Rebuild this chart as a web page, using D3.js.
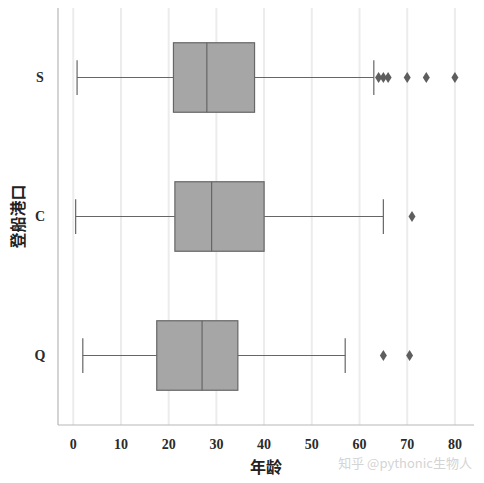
<!DOCTYPE html>
<html>
<head>
<meta charset="utf-8">
<script src="https://cdn.jsdelivr.net/npm/d3@7"></script>
<style>
  body { margin: 0; background: #fff; }
  svg { display: block; }
</style>
</head>
<body>
<div id="chart"></div>
<script>
// data
const ports = ['S', 'C', 'Q']
const whiskerLow = [0.8, 0.5, 2]
const q1 = [21, 21.3, 17.5]
const median = [28, 29, 27]
const q3 = [38, 40, 34.5]
const whiskerHigh = [63, 65, 57]
const outliers = [
  [64, 65, 66, 70, 74, 80],
  [71],
  [65, 70.5]
]
const xTicks = [0, 10, 20, 30, 40, 50, 60, 70, 80]

const boxes = ports.map((p, i) => ({
  port: p,
  lo: whiskerLow[i],
  q1: q1[i],
  med: median[i],
  q3: q3[i],
  hi: whiskerHigh[i],
  out: outliers[i]
}))

const margin = { top: 8, left: 58, right: 10, bottom: 58 }
const width = 484 - margin.left - margin.right
const height = 483 - margin.top - margin.bottom

const svg = d3.select('#chart')
  .append('svg')
  .attr('width', 484)
  .attr('height', 483)
  .append('g')
  .attr('transform', `translate(${margin.left},${margin.top})`)

const x = d3.scaleLinear().domain([-3.2, 84]).range([0, width])
const y = d3.scaleBand().domain(ports).range([0, height])

const serif = '"Liberation Serif", "Noto Sans CJK SC", serif'

// grid
svg.selectAll('.grid')
  .data(xTicks)
  .enter()
  .append('line')
  .attr('class', 'grid')
  .attr('x1', d => x(d))
  .attr('x2', d => x(d))
  .attr('y1', 0)
  .attr('y2', height)
  .attr('stroke', '#ececec')
  .attr('stroke-width', 2)

// spines
svg.append('line')
  .attr('x1', 0).attr('x2', 0)
  .attr('y1', 0).attr('y2', height)
  .attr('stroke', '#b8b8b8').attr('stroke-width', 1.2)
svg.append('line')
  .attr('x1', 0).attr('x2', width)
  .attr('y1', height).attr('y2', height)
  .attr('stroke', '#b8b8b8').attr('stroke-width', 1.2)

const stroke = '#666'
const boxH = y.bandwidth() * 0.5
const capH = y.bandwidth() * 0.25

const g = svg.selectAll('.box')
  .data(boxes)
  .enter()
  .append('g')
  .attr('class', 'box')
  .attr('transform', d => `translate(0,${y(d.port) + y.bandwidth() / 2})`)

g.each(function(d) {
  const b = d3.select(this)
  // whiskers
  b.append('line')
    .attr('x1', x(d.lo)).attr('x2', x(d.q1))
    .attr('stroke', stroke).attr('stroke-width', 1.2)
  b.append('line')
    .attr('x1', x(d.q3)).attr('x2', x(d.hi))
    .attr('stroke', stroke).attr('stroke-width', 1.2)
  // caps
  b.append('line')
    .attr('x1', x(d.lo)).attr('x2', x(d.lo))
    .attr('y1', -capH / 2).attr('y2', capH / 2)
    .attr('stroke', stroke).attr('stroke-width', 1.2)
  b.append('line')
    .attr('x1', x(d.hi)).attr('x2', x(d.hi))
    .attr('y1', -capH / 2).attr('y2', capH / 2)
    .attr('stroke', stroke).attr('stroke-width', 1.2)
  // box
  b.append('rect')
    .attr('x', x(d.q1))
    .attr('y', -boxH / 2)
    .attr('width', x(d.q3) - x(d.q1))
    .attr('height', boxH)
    .attr('fill', '#a6a6a6')
    .attr('stroke', stroke)
    .attr('stroke-width', 1.2)
  // median
  b.append('line')
    .attr('x1', x(d.med)).attr('x2', x(d.med))
    .attr('y1', -boxH / 2).attr('y2', boxH / 2)
    .attr('stroke', stroke).attr('stroke-width', 1.2)
  // outliers (diamonds)
  b.selectAll('.out')
    .data(d.out)
    .enter()
    .append('path')
    .attr('class', 'out')
    .attr('d', 'M0,-5.5L3.5,0L0,5.5L-3.5,0Z')
    .attr('transform', v => `translate(${x(v)},0)`)
    .attr('fill', '#5e5e5e')
})

// x tick labels
svg.selectAll('.xtick')
  .data(xTicks)
  .enter()
  .append('text')
  .attr('class', 'xtick')
  .attr('x', d => x(d))
  .attr('y', height + 24)
  .attr('text-anchor', 'middle')
  .attr('font-family', serif)
  .attr('font-weight', 'bold')
  .attr('font-size', 14)
  .attr('fill', '#2a2a2a')
  .text(d => d)

// y tick labels
svg.selectAll('.ytick')
  .data(ports)
  .enter()
  .append('text')
  .attr('class', 'ytick')
  .attr('x', -18)
  .attr('y', d => y(d) + y.bandwidth() / 2)
  .attr('dy', '0.35em')
  .attr('text-anchor', 'middle')
  .attr('font-family', serif)
  .attr('font-weight', 'bold')
  .attr('font-size', 14)
  .attr('fill', '#2a2a2a')
  .text(d => d)

// axis titles
svg.append('text')
  .attr('x', width / 2)
  .attr('y', height + 48)
  .attr('text-anchor', 'middle')
  .attr('font-family', serif)
  .attr('font-weight', 'bold')
  .attr('font-size', 16)
  .attr('fill', '#222')
  .text('年龄')

svg.append('text')
  .attr('transform', `translate(-34,${height / 2}) rotate(-90)`)
  .attr('text-anchor', 'middle')
  .attr('font-family', serif)
  .attr('font-weight', 'bold')
  .attr('font-size', 16)
  .attr('fill', '#222')
  .text('登船港口')

// watermark
d3.select('svg').append('text')
  .attr('x', 472)
  .attr('y', 468)
  .attr('text-anchor', 'end')
  .attr('font-family', '"Noto Sans CJK SC", sans-serif')
  .attr('font-size', 13)
  .attr('fill', '#d4d4d4')
  .text('知乎 @pythonic生物人')
</script>
</body>
</html>
